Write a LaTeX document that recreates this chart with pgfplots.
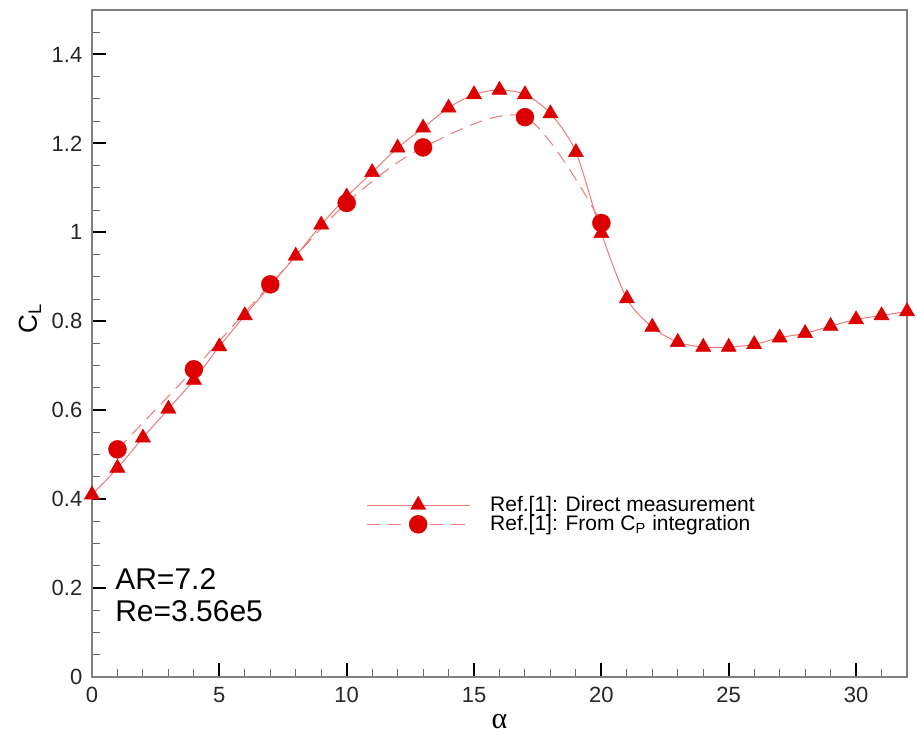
\documentclass[border=0pt]{standalone}
\usepackage{fontspec}
\setmainfont{Liberation Sans}
\newfontfamily\greekserif{Liberation Serif}
\usepackage{pgfplots}
\pgfplotsset{compat=1.18}
\definecolor{mk}{RGB}{220,0,0}
\definecolor{ln}{RGB}{240,120,120}
\definecolor{framec}{RGB}{128,128,128}
\begin{document}
\begin{tikzpicture}
\begin{axis}[
  width=407.5pt, height=333.5pt, scale only axis,
  xmin=0, xmax=32, ymin=0, ymax=1.5,
  xtick={0,5,10,15,20,25,30},
  ytick={0,0.2,0.4,0.6,0.8,1,1.2,1.4},
  minor xtick={1,2,3,4,6,7,8,9,11,12,13,14,16,17,18,19,21,22,23,24,26,27,28,29,31},
  minor ytick={0.05,0.1,0.15,0.25,0.3,0.35,0.45,0.5,0.55,0.65,0.7,0.75,0.85,0.9,0.95,1.05,1.1,1.15,1.25,1.3,1.35,1.45},
  xtick pos=bottom, ytick pos=left,
  tick align=inside,
  major tick length=7pt, minor tick length=4pt,
  major tick style={black, line width=1pt},
  minor tick style={black!60, line width=0.5pt},
  axis line style={framec, line width=0.6pt},
  /pgf/number format/assume math mode=true,
  tick label style={font=\fontsize{11}{12}\selectfont, black!85},
  xticklabel style={yshift=-1.5pt},
  yticklabel style={xshift=-1.3pt},
  xlabel={{\greekserif α}},
  ylabel={C\textsubscript{L}},
  every axis x label/.style={at={(axis description cs:0.5,0)}, yshift=-22.3pt, anchor=center, font=\fontsize{15}{16}\selectfont},
  every axis y label/.style={at={(axis description cs:0,0.537)}, xshift=-31pt, rotate=90, anchor=center, font=\fontsize{13}{14}\selectfont},
  legend style={draw=none, fill=none, at={(axis cs:10.75,0.417)}, anchor=north west, inner sep=0pt, font=\fontsize{10.5}{10.5}\selectfont, row sep=-3.5pt, cells={anchor=west}, /tikz/every odd column/.append style={column sep=8pt}},
  legend image code/.code={\draw[mark repeat=2,mark phase=2,#1] plot coordinates {(0pt,0pt) (25.75pt,0pt) (51.5pt,0pt)};},
]
\addplot[ln, line width=0.5pt, smooth, mark=triangle*, mark size=4.4pt, mark options={solid, fill=mk, draw=mk, line width=0.2pt}]
coordinates {
(0,0.410) (1,0.470) (2,0.538) (3,0.603) (4,0.668) (5,0.743) (6,0.813) (7,0.880)
(8,0.947) (9,1.017) (10,1.080) (11,1.135) (12,1.190) (13,1.235) (14,1.280)
(15,1.310) (16,1.320) (17,1.310) (18,1.267) (19,1.180) (20,0.998) (21,0.851)
(22,0.787) (23,0.753) (24,0.742) (25,0.742) (26,0.748) (27,0.763) (28,0.773)
(29,0.789) (30,0.804) (31,0.813) (32,0.822)
};
\addlegendentry{Ref.[1]: Direct measurement}
\addplot[ln, line width=0.5pt, smooth, dash pattern=on 6.5pt off 4pt, mark=*, mark size=4.5pt, mark options={solid, fill=mk, draw=mk, line width=0.2pt}]
coordinates {
(1,0.512) (4,0.692) (7,0.883) (10,1.066) (13,1.191) (17,1.259) (20,1.021)
};
\addlegendentry{Ref.[1]: From C\textsubscript{P} integration}
\node[anchor=north west, inner sep=0pt, align=left, font=\fontsize{15}{16}\selectfont] at (axis cs:0.9,0.245) {AR=7.2\\Re=3.56e5};
\end{axis}
\path (current axis.south west) ++(-46pt,-29.5pt) coordinate (bbA);
\path (current axis.north east) ++(5pt,5pt) coordinate (bbB);
\path (bbA) rectangle (bbB);
\end{tikzpicture}
\end{document}
